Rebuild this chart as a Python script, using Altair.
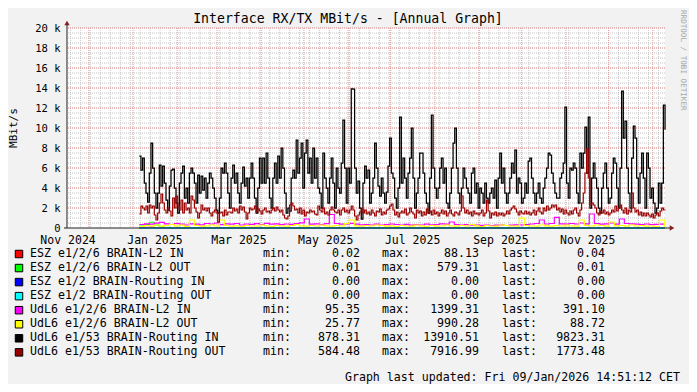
import altair as alt
import pandas as pd

# ---------------- data ----------------
SERIES_START = "2025-01-05 09:30"
FINE_STEP = "1688min"
COARSE_STEP = "5057min"

names = ["ESZ e1/2/6 BRAIN-L2 IN", "ESZ e1/2/6 BRAIN-L2 OUT",
         "ESZ e1/2 BRAIN-Routing IN", "ESZ e1/2 BRAIN-Routing OUT",
         "UdL6 e1/2/6 BRAIN-L2 IN", "UdL6 e1/2/6 BRAIN-L2 OUT",
         "UdL6 e1/53 BRAIN-Routing IN", "UdL6 e1/53 BRAIN-Routing OUT"]
colors = ["#FF0000", "#00FF00", "#0000FF", "#00FFFF",
          "#FF00FF", "#FFFF00", "#000000", "#990000"]
mins = [0.02, 0.01, 0.00, 0.00, 95.35, 25.77, 878.31, 584.48]
maxs = [88.13, 579.31, 0.00, 0.00, 1399.31, 990.28, 13910.51, 7916.99]
lasts = [0.04, 0.01, 0.00, 0.00, 391.10, 88.72, 9823.31, 1773.48]

esz_dates = ["2025-01-05 09:30", "2025-01-08 22:00", "2025-01-12 10:00", "2025-01-15 22:00",
             "2025-01-19 10:00", "2025-01-22 22:00", "2025-01-26 10:00", "2026-01-09 14:00"]
esz_l2_in = [20, 60, 88.13, 30, 10, 5, 0.5, 0.04]
esz_l2_out = [200, 350, 579.31, 300, 120, 60, 5, 0.01]
esz_rt_dates = ["2025-01-05 09:30", "2026-01-09 14:00"]
esz_rt_in = [0.0, 0.0]
esz_rt_out = [0.0, 0.0]

udl_l2_in = [350, 420, 380, 480, 560, 420, 350, 450, 380, 300,
             420, 380, 320, 450, 400, 500, 330, 420, 380, 450,
             300, 400, 360, 430, 350, 460, 380, 420, 330, 400,
             360, 450, 520, 900, 380, 420, 340, 430, 1350, 450,
             380, 420, 470, 380, 320, 350, 300, 380, 280, 330,
             400, 350, 300, 360, 280, 330, 300, 380, 320, 350,
             420, 380, 600, 350, 300, 330, 280, 300, 260, 300,
             250, 280, 300, 250, 280, 320, 300, 350, 400, 450,
             800, 400, 450, 1070, 420, 380, 450, 400, 500, 420,
             1399.31, 450, 380, 420, 500, 380, 900, 450, 420, 380,
             350, 400, 330, 360, 380, 391.10]

udl_l2_out = [150, 250, 200, 300, 180, 250, 350, 200, 280, 150,
              800, 250, 180, 220, 300, 200, 800, 250, 180, 220,
              150, 250, 200, 180, 300, 220, 150, 250, 200, 180,
              250, 350, 220, 180, 250, 200, 300, 220, 180, 250,
              200, 450, 800, 220, 180, 250, 200, 300, 250, 180,
              220, 150, 250, 200, 180, 300, 220, 150, 250, 180,
              200, 300, 220, 180, 250, 200, 350, 220, 150, 250,
              200, 180, 300, 250, 200, 180, 990.28, 250, 200, 180,
              300, 220, 180, 250, 200, 300, 220, 180, 800, 250,
              200, 300, 250, 180, 600, 220, 250, 180, 300, 200,
              250, 180, 200, 150, 800, 88.72]

udl_rt_in = [7200, 5800, 7000, 4500, 3500, 2600, 5500, 8500, 6000, 3500,
             2000, 3500, 6300, 4200, 6200, 4500, 2800, 1800, 4200, 5800,
             5900, 4000, 2500, 1500, 4500, 5500, 6200, 3000, 4000, 2500,
             5500, 6000, 5500, 4500, 2500, 5300, 3500, 5200, 3800, 5000,
             3000, 4500, 5500, 5000, 4000, 3000, 1800, 1500, 3000, 6000,
             5500, 6500, 5500, 3500, 2000, 5000, 6300, 4500, 5500, 3500,
             2500, 4500, 6100, 4200, 5000, 3000, 5000, 6500, 5000, 3000,
             1500, 4000, 7000, 4500, 7000, 4500, 7500, 5000, 3000, 2000,
             5000, 6500, 4500, 7200, 5000, 8000, 6000, 3500, 1500, 2000,
             1700, 5000, 5800, 5000, 8800, 5500, 7000, 8500, 4000, 7500,
             8800, 5500, 7000, 4500, 8000, 5000, 7000, 4000, 3500, 2000,
             7500, 5000, 4000, 2500, 5000, 7000, 4500, 2000, 6000, 4000,
             3500, 6500, 10800, 6000, 2500, 6000, 4500,
             13910.51, 13900, 6000, 3500, 4700, 2000, 878.31, 4500, 6200, 5000,
             5800, 2500, 3500, 5000, 8500, 6000, 4200, 3200, 5000, 3500,
             2500, 3600, 6200, 9000, 5500, 5000, 3000, 2000, 4000, 11100,
             4500, 7000, 5000,
             3000, 5500, 7000, 10000, 5000, 2000, 3500, 5000, 7500, 7500,
             5500, 3500, 2500, 1500, 5000, 11300, 6000, 4000, 3000, 4000,
             6000, 7000, 4500, 6000, 2500, 2000, 3500, 6000, 8500, 10000,
             6000, 3500, 2500, 4000, 6000, 5000, 4000, 3500, 2500, 5500,
             6000, 3500, 4500, 2000, 4000, 3500, 2500, 4500, 3000, 2500,
             3500, 4000, 3000,
             4800, 2000, 5000, 7500, 4500, 6000, 3500, 2500, 3500, 5000,
             6500, 5500, 7800, 3500, 5000, 4500, 2500, 3000, 4500, 3500,
             6700, 7000, 5000, 3500, 2500, 3500, 4500, 3000, 2500, 4000,
             5000, 6000, 7500, 7300, 5500, 4500, 3500, 3000, 3000, 5000,
             5500, 6500, 12100, 4500, 3000, 6000, 5800, 6500, 6000, 3500,
             2500, 7500, 6000, 7500,
             10100, 5500, 11100, 2000, 5000, 6500, 5000, 4000, 2000, 1500,
             4000, 5500, 6500, 4000, 2500, 3000, 5500, 7000, 6500, 4000,
             2000, 6000, 13700, 9000, 10700, 6000, 3500, 2000, 7000, 10200,
             9000, 5000, 2500, 5500, 7500, 5000, 2000, 7500, 6000, 3000,
             4000, 2500, 1500, 2000, 4500, 2500, 4500, 12300, 9823.31]

udl_rt_out = [1400, 2200, 2000, 1800, 2200, 1500, 2300, 2000, 2200, 1300,
              800, 1500, 2500, 3400, 2500, 1800, 1500, 2000, 1700, 1200,
              3000, 2000, 3200, 2200, 1800, 2800, 1500, 2500, 1800, 2000,
              1500, 3200, 2800, 2000, 1600, 1000, 1500, 2300, 1800, 2000,
              1700, 2000, 1500, 1200, 1600, 1800, 1500, 584.48, 1500, 1600,
              1200, 1800, 1300, 1600, 1600, 1500, 2000, 1700, 1900, 1500,
              2200, 1800, 2100, 1600, 900, 1500, 2000, 1800, 1900, 2200,
              1600, 1900, 1700, 1400, 1800, 2000, 1600, 1700, 1500, 1800,
              2000, 1700, 2100, 1800, 1600, 1800, 1300, 1000, 900, 1200,
              2300, 2500, 2200, 1800, 1900, 1500, 2000, 1400, 1800, 1200,
              1600, 1500, 1800, 1600, 1700, 1400, 1300, 2200, 1800, 1600,
              2000, 1400, 1600, 1300, 1800, 2100, 1800, 1600, 1500, 1800,
              1300, 1800, 2000, 1600, 1800, 1500, 1800,
              2200, 1800, 1200, 800, 1300, 1600, 1900, 1500, 1800, 1400,
              1600, 1300, 1800, 1500, 1200, 1700, 1600, 1900, 1300, 1600,
              1400, 1800, 1900, 2200, 2400, 1800, 1300, 1600, 1100, 1500,
              1700, 1500, 1900, 1300, 1500, 2000, 1600, 1400, 1000, 1800,
              1500, 1700, 1200, 1600, 1300, 1900, 1500, 1700, 1300, 1800,
              1400, 1600, 1200, 1500, 1800, 1400, 1700, 1200, 1500, 1800,
              1400, 1200, 1600, 1500, 1300, 1700, 3200, 2000, 1500, 1800,
              1400, 1600, 1200, 1700, 1400, 1500, 1300, 1500, 1800, 1200,
              1500, 2800, 1700, 1000, 1500, 1300, 1600, 1200, 1500, 1300,
              1500, 1200, 1400, 1700, 1400, 1800, 2000, 2200, 1900, 1600,
              1300, 1700, 1500, 1400, 1700, 1400, 1600, 1300, 1500, 1800,
              1300, 1700, 2000, 1600, 1400, 2000, 1700, 2200, 1800, 2000,
              2300, 2100, 2300, 1800, 2000, 1600, 1900, 1400, 1800, 1500,
              1300, 1700, 1400, 1800, 2000, 1500, 1200, 1800, 2500, 3500,
              5500, 7916.99, 5000, 2300, 2500, 2300, 2000, 1500, 1300, 1700,
              1500, 1800, 1400, 1600, 1300, 1500, 1800, 1600, 2200, 1700,
              2000, 2300, 1800, 1500, 2000, 1400, 1800, 1600, 3500, 2000,
              1600, 1800, 1300, 1600, 1200, 1500, 1200, 1500, 1300, 1100,
              1400, 1000, 1300, 1500, 1200, 1700, 2000, 1800, 1773.48]

month_label_dates = ["2024-11-16", "2025-01-16", "2025-03-16", "2025-05-16",
                     "2025-07-16", "2025-09-16", "2025-11-16"]
y_label_values = [0, 2000, 4000, 6000, 8000, 10000, 12000, 14000, 16000, 18000, 20000]

title_text = "Interface RX/TX MBit/s - [Annual Graph]"
y_title = "MBit/s"
footer_text = "Graph last updated: Fri 09/Jan/2026 14:51:12 CET"
watermark = "RRDTOOL / TOBI OETIKER"

# ---------------- build ----------------
MONO = "DejaVu Sans Mono"
W, H = 598, 200


def dt(s):
    t = pd.Timestamp(s)
    return alt.DateTime(year=t.year, month=t.month, date=t.day,
                        hours=t.hour, minutes=t.minute, seconds=t.second)


xs = alt.Scale(domain=[dt("2024-11-15 14:51:12"), dt("2026-01-09 14:51:12")])
ys = alt.Scale(domain=[0, 20000], nice=False, zero=True)

x_axis = alt.Axis(values=[dt(d) for d in month_label_dates], format="%b %Y", labelFont=MONO,
                  labelFontSize=11.5, labelColor="#000000", ticks=False, domain=False, grid=False,
                  labelPadding=6, title=None, labelFlush=False, labelOverlap=False)
y_axis = alt.Axis(values=y_label_values, labelExpr="datum.value == 0 ? '0' : (datum.value/1000) + ' k'",
                  labelFont=MONO, labelFontSize=10.5, labelColor="#000000", ticks=False, domain=False,
                  grid=False, labelPadding=7, title=None)
X = alt.X("t:T", scale=xs, axis=x_axis)
Y = alt.Y("v:Q", scale=ys, axis=y_axis)


def frame(dates, values):
    return pd.DataFrame({"t": pd.to_datetime(dates).strftime("%Y-%m-%dT%H:%M:%S"), "v": values})


fine = pd.date_range(SERIES_START, periods=len(udl_rt_in), freq=FINE_STEP)
coarse = pd.date_range(SERIES_START, periods=len(udl_l2_in), freq=COARSE_STEP)

series = [
    (frame(esz_dates, esz_l2_in), colors[0], 1),
    (frame(esz_dates, esz_l2_out), colors[1], 1),
    (frame(esz_rt_dates, esz_rt_in), colors[2], 1),
    (frame(esz_rt_dates, esz_rt_out), colors[3], 1),
    (frame(coarse, udl_l2_in), colors[4], 1.2),
    (frame(coarse, udl_l2_out), colors[5], 1.2),
    (frame(fine, udl_rt_in), colors[6], 1.25),
    (frame(fine, udl_rt_out), colors[7], 1.2),
]

# grid
weeks = pd.DataFrame({"t": pd.date_range("2024-11-18", "2026-01-05", freq="7D").strftime("%Y-%m-%dT%H:%M:%S")})
months = pd.DataFrame({"t": pd.date_range("2024-12-01", "2026-01-01", freq="MS").strftime("%Y-%m-%dT%H:%M:%S")})
minor_y = pd.DataFrame({"v": list(range(500, 20001, 500))})
major_y = pd.DataFrame({"v": y_label_values[1:]})

GRID = "#C4C4C4"
MGRID = "#EB9595"

layers = [
    alt.Chart(weeks).mark_rule(color=GRID, strokeDash=[1, 1], strokeWidth=1).encode(x=X),
    alt.Chart(minor_y).mark_rule(color=GRID, strokeDash=[1, 1], strokeWidth=1).encode(y=Y),
    alt.Chart(months).mark_rule(color=MGRID, strokeDash=[1, 1], strokeWidth=1).encode(x=X),
    alt.Chart(major_y).mark_rule(color=MGRID, strokeDash=[1, 1], strokeWidth=1).encode(y=Y),
]

for df, c, w in series:
    layers.append(
        alt.Chart(df).mark_line(color=c, strokeWidth=w, interpolate="step-after").encode(x=X, y=Y))

AXIS_C = "#1F1F1F"
ARROW_C = "#801F1F"
one = pd.DataFrame({"a": [0]})
layers += [
    alt.Chart(one).mark_rule(color=AXIS_C, strokeWidth=1).encode(
        x=alt.value(0), y=alt.value(-4), y2=alt.value(200)),
    alt.Chart(one).mark_rule(color=AXIS_C, strokeWidth=1).encode(
        x=alt.value(-3), x2=alt.value(603), y=alt.value(200)),
    alt.Chart(one).mark_point(shape="triangle-up", filled=True, size=28, color=ARROW_C, opacity=1).encode(
        x=alt.value(0), y=alt.value(-5)),
    alt.Chart(one).mark_point(shape="triangle-right", filled=True, size=28, color=ARROW_C, opacity=1).encode(
        x=alt.value(605), y=alt.value(200)),
]


def label(text, x, y, size, align="left", angle=0, color="#000000", baseline="middle"):
    return alt.Chart(pd.DataFrame({"s": [text]})).mark_text(
        font=MONO, fontSize=size, align=align, baseline=baseline, angle=angle, color=color).encode(
        x=alt.value(x), y=alt.value(y), text="s:N")


layers += [
    label(title_text, 281, -9, 13.2, align="center"),
    label(y_title, -53.5, 100, 11, align="center", angle=270),
    label(watermark, 616, -18, 7.6, align="left", angle=90, color="#A8A8A8"),
    label(footer_text, 613, 350, 11.6, align="right"),
]

legend_df = pd.DataFrame({"name": names, "color": colors, "mn": mins, "mx": maxs, "ls": lasts,
                          "idx": list(range(len(names)))})
leg = alt.Chart(legend_df).transform_calculate(ly="226 + datum.idx * 14.05")
ly = alt.Y("ly:Q", scale=None, axis=None)


def ltext(x, align, **enc):
    return leg.mark_text(font=MONO, fontSize=11.6, align=align, baseline="middle", color="#000000").encode(
        x=alt.value(x), y=ly, **enc)


layers += [
    leg.mark_square(size=56, stroke="#000000", strokeWidth=1, filled=True, opacity=1).encode(
        x=alt.value(-48), y=ly, fill=alt.Color("color:N", scale=None, legend=None)),
    ltext(-37, "left", text="name:N"),
    ltext(196, "left", text=alt.value("min:")),
    ltext(293, "right", text=alt.Text("mn:Q", format=".2f")),
    ltext(315, "left", text=alt.value("max:")),
    ltext(412, "right", text=alt.Text("mx:Q", format=".2f")),
    ltext(435, "left", text=alt.value("last:")),
    ltext(538, "right", text=alt.Text("ls:Q", format=".2f")),
]

chart = alt.layer(*layers).properties(
    width=W, height=H,
    autosize=alt.AutoSizeParams(type="none"),
    padding={"left": 59, "top": 20, "right": 24, "bottom": 156},
    background="#F2F2F2",
).configure_view(fill="#FFFFFF", stroke=None)

chart.save("out.html", embed_options={"renderer": "svg", "actions": False})
